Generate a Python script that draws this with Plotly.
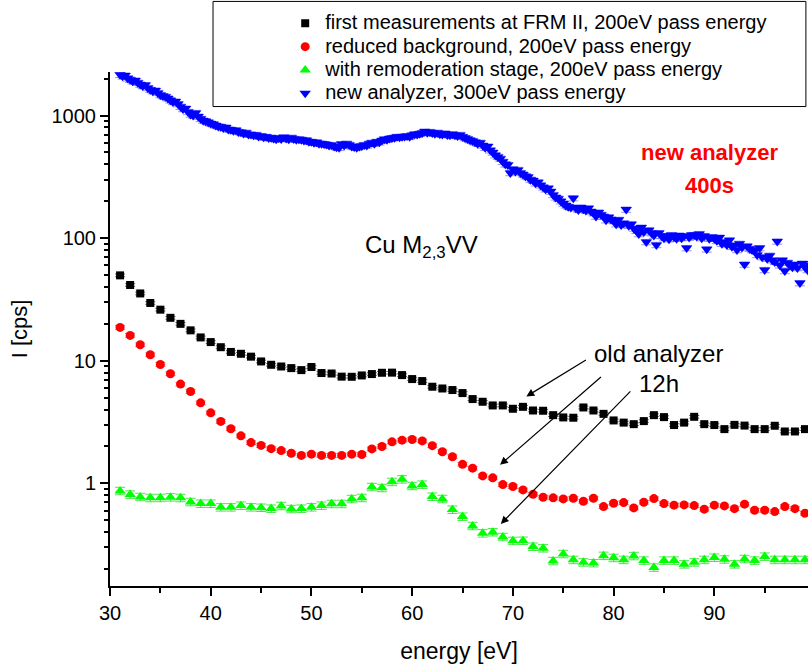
import plotly.graph_objects as go

# ---- measured Cu M2,3VV spectra ----
energy_old = list(range(31, 100))  # eV, 1 eV steps

first_frm2 = [49.7, 41.5, 35.4, 29.6, 26.1, 22.4, 20.0, 17.7, 15.5, 14.2,
              12.9, 11.8, 11.4, 10.8, 9.87, 9.27, 8.98, 8.71, 8.39, 8.89,
              7.94, 7.87, 7.42, 7.40, 7.59, 7.79, 7.98, 8.00, 7.64, 7.09,
              6.83, 6.14, 5.94, 5.77, 5.45, 4.87, 4.63, 4.32, 4.32, 4.06,
              4.21, 3.93, 3.91, 3.60, 3.45, 3.43, 4.16, 3.93, 3.69, 3.26,
              3.13, 3.04, 3.22, 3.60, 3.47, 2.99, 3.13, 3.49, 3.04, 2.99,
              2.77, 3.00, 2.96, 2.77, 2.77, 2.95, 2.65, 2.65, 2.77]

reduced_bg = [18.7, 16.1, 13.5, 11.2, 9.33, 7.83, 6.45, 5.61, 4.54, 3.76,
              3.20, 2.79, 2.44, 2.15, 2.04, 1.92, 1.85, 1.76, 1.69, 1.73,
              1.69, 1.69, 1.69, 1.73, 1.72, 1.91, 2.00, 2.18, 2.25, 2.28,
              2.22, 2.03, 1.81, 1.65, 1.43, 1.33, 1.15, 1.11, 0.978, 0.942,
              0.885, 0.816, 0.771, 0.762, 0.747, 0.757, 0.715, 0.757, 0.647, 0.689,
              0.697, 0.631, 0.702, 0.751, 0.684, 0.664, 0.667, 0.659, 0.616, 0.664,
              0.655, 0.622, 0.677, 0.604, 0.604, 0.589, 0.647, 0.622, 0.571]

remoderated = [0.868, 0.811, 0.776, 0.762, 0.762, 0.771, 0.762, 0.706, 0.684, 0.684,
               0.639, 0.639, 0.659, 0.639, 0.634, 0.623, 0.655, 0.619, 0.623, 0.639,
               0.659, 0.681, 0.681, 0.747, 0.762, 0.936, 0.919, 1.03, 1.08, 0.954,
               0.978, 0.780, 0.747, 0.611, 0.536, 0.450, 0.392, 0.400, 0.366, 0.340,
               0.341, 0.305, 0.296, 0.233, 0.266, 0.238, 0.227, 0.224, 0.257, 0.247,
               0.238, 0.256, 0.235, 0.206, 0.235, 0.235, 0.219, 0.227, 0.238, 0.248,
               0.240, 0.219, 0.242, 0.235, 0.253, 0.238, 0.238, 0.238, 0.238]

# new analyzer, 0.25 eV steps from 31.0 eV
new_analyzer = [
    2150, 2090, 2120, 2010,  1960, 1900, 1930, 1850,  1790, 1740, 1770, 1680,
    1620, 1580, 1600, 1530,  1470, 1440, 1420, 1380,  1330, 1290, 1300, 1240,
    1180, 1130, 1140, 1070,  1020, 1000, 1050, 980,   940, 910, 900, 880,
    860, 850, 830, 815,      810, 790, 800, 770,      765, 750, 760, 735,
    730, 715, 725, 700,      700, 690, 695, 675,      680, 665, 670, 655,
    660, 650, 640, 655,      645, 665, 650, 640,      660, 645, 635, 640,
    635, 625, 630, 610,      610, 600, 605, 590,      590, 585, 580, 570,
    575, 560, 550, 545,      585, 570, 590, 575,      560, 555, 545, 560,
    565, 575, 570, 590,      600, 590, 610, 605,      625, 640, 635, 650,
    655, 660, 670, 665,      670, 675, 680, 670,      690, 705, 700, 710,
    720, 740, 725, 735,      720, 710, 725, 705,      700, 715, 695, 690,
    705, 690, 680, 695,      670, 655, 645, 630,      620, 605, 590, 600,
    570, 545, 560, 520,      500, 475, 460, 445,      420, 400, 395, 340,
    365, 350, 360, 340,      330, 320, 315, 300,      295, 280, 285, 270,
    260, 250, 255, 240,      225, 215, 210, 200,      192, 185, 180, 178,
    212, 175, 170, 178,      172, 168, 175, 165,      160, 150, 162, 155,
    150, 140, 148, 142,      138, 130, 141, 128,      132, 171, 126, 130,
    120, 115, 108, 122,      112, 93, 116, 110,       105, 88, 110, 104,
    100, 104, 98, 106,       102, 99, 105, 100,       104, 83, 101, 106,
    106, 103, 108, 100,      104, 81, 99, 102,        99, 95, 101, 90,
    93, 88, 96, 85,          87, 80, 90, 84,          61, 86, 82, 80,
    79, 73, 83, 70,          55, 68, 72, 66,          64, 94, 60, 66,
    54, 63, 60, 58,          61, 57, 43, 62,          58, 55, 60, 52,
]
energy_new = [31 + 0.25 * i for i in range(len(new_analyzer))]

series_names = [
    "first measurements at FRM II, 200eV pass energy",
    "reduced background, 200eV pass energy",
    "with remoderation stage, 200eV pass energy",
    "new analyzer, 300eV pass energy",
]

y_tick_vals = [1, 10, 100, 1000]
y_tick_text = ["1", "10", "100", "1000"]
x_tick_vals = [30, 40, 50, 60, 70, 80, 90]

FONT = "Liberation Sans, Arial, Helvetica, sans-serif"


def err(pct, color):
    return dict(type="percent", value=pct, thickness=1, width=5, color=color)


def legend_label(name):
    # legend rows are laid out from the (smaller) legend font size,
    # the label itself is drawn larger
    return "<span style='font-size:20px'>" + name + "</span>"


fig = go.Figure()
fig.add_trace(go.Scatter(
    x=energy_old, y=first_frm2, mode="markers", name=legend_label(series_names[0]),
    marker=dict(symbol="square", size=8, color="#000000"),
    error_y=err(2.5, "rgba(0,0,0,0.6)")))
fig.add_trace(go.Scatter(
    x=energy_old, y=reduced_bg, mode="markers", name=legend_label(series_names[1]),
    marker=dict(symbol="circle", size=9, color="#ff0000"),
    error_y=err(3.5, "rgba(255,0,0,0.6)")))
fig.add_trace(go.Scatter(
    x=energy_old, y=remoderated, mode="markers", name=legend_label(series_names[2]),
    marker=dict(symbol="triangle-up", size=10, color="#00ff00"),
    error_y=err(7, "rgba(0,220,0,0.7)")))
fig.add_trace(go.Scatter(
    x=energy_new, y=new_analyzer, mode="markers", name=legend_label(series_names[3]),
    marker=dict(symbol="triangle-down", size=10, color="#0000ff"),
    error_y=err(5, "rgba(60,60,255,0.55)")))

# legend frame
fig.add_shape(type="rect", xref="paper", yref="paper",
              x0=0.1476, x1=0.997, y0=0.9328, y1=1.1373,
              line=dict(color="black", width=1), fillcolor="rgba(0,0,0,0)",
              layer="above")

annotations = [
    dict(x=55.1, y=1.93, text="Cu M<sub>2,3</sub>VV", xanchor="left",
         yanchor="middle", showarrow=False,
         font=dict(family=FONT, size=24, color="black")),
    dict(x=89.5, y=2.698, text="<b>new analyzer</b>", showarrow=False,
         font=dict(family=FONT, size=22, color="#ff0000")),
    dict(x=89.5, y=2.429, text="<b>400s</b>", showarrow=False,
         font=dict(family=FONT, size=22, color="#ff0000")),
    dict(x=84.5, y=1.057, text="old analyzer", showarrow=False,
         font=dict(family=FONT, size=24, color="black")),
    dict(x=84.5, y=0.812, text="12h", showarrow=False,
         font=dict(family=FONT, size=24, color="black")),
]
arrow_pairs = [
    ((77.4, 1.014), (71.34, 0.709)),
    ((78.89, 0.878), (68.73, 0.151)),
    ((81.81, 0.763), (68.80, -0.331)),
]
for (tx, ty), (hx, hy) in arrow_pairs:
    annotations.append(dict(
        x=hx, y=hy, ax=tx, ay=ty, xref="x", yref="y", axref="x", ayref="y",
        text="", showarrow=True, arrowhead=2, arrowsize=1.3, arrowwidth=1.2,
        arrowcolor="black"))

fig.update_layout(
    width=808, height=668,
    margin=dict(l=110, r=0, t=72, b=82),
    paper_bgcolor="white", plot_bgcolor="white",
    font=dict(family=FONT, size=20, color="black"),
    showlegend=True,
    legend=dict(x=0.251, y=1.127, xanchor="left", yanchor="top",
                bgcolor="rgba(0,0,0,0)", borderwidth=0,
                font=dict(family=FONT, size=15.6, color="black")),
    annotations=annotations,
)

fig.update_xaxes(
    range=[30, 99.3], tickmode="array", tickvals=x_tick_vals,
    showgrid=False, zeroline=False,
    showline=True, linecolor="black", linewidth=2,
    ticks="outside", ticklen=8, tickwidth=1.5, tickcolor="black",
    tickfont=dict(family=FONT, size=20),
    minor=dict(dtick=5, tick0=30, ticks="outside", ticklen=5, tickwidth=1.5,
               tickcolor="black", showgrid=False),
    title=dict(text="energy [eV]", font=dict(family=FONT, size=23), standoff=20),
)

minor_y = [m * 10 ** e for e in range(-1, 4) for m in range(2, 10)]
fig.update_yaxes(
    type="log", range=[-0.837, 3.355], tickmode="array",
    tickvals=y_tick_vals, ticktext=y_tick_text,
    showgrid=False, zeroline=False,
    showline=True, linecolor="black", linewidth=2,
    ticks="outside", ticklen=8, tickwidth=1.5, tickcolor="black",
    tickfont=dict(family=FONT, size=20),
    minor=dict(tickmode="array", tickvals=minor_y, ticks="outside", ticklen=4,
               tickwidth=1.5, tickcolor="black", showgrid=False),
    title=dict(text="I [cps]", font=dict(family=FONT, size=22), standoff=18),
)

fig.write_html("out.html")
